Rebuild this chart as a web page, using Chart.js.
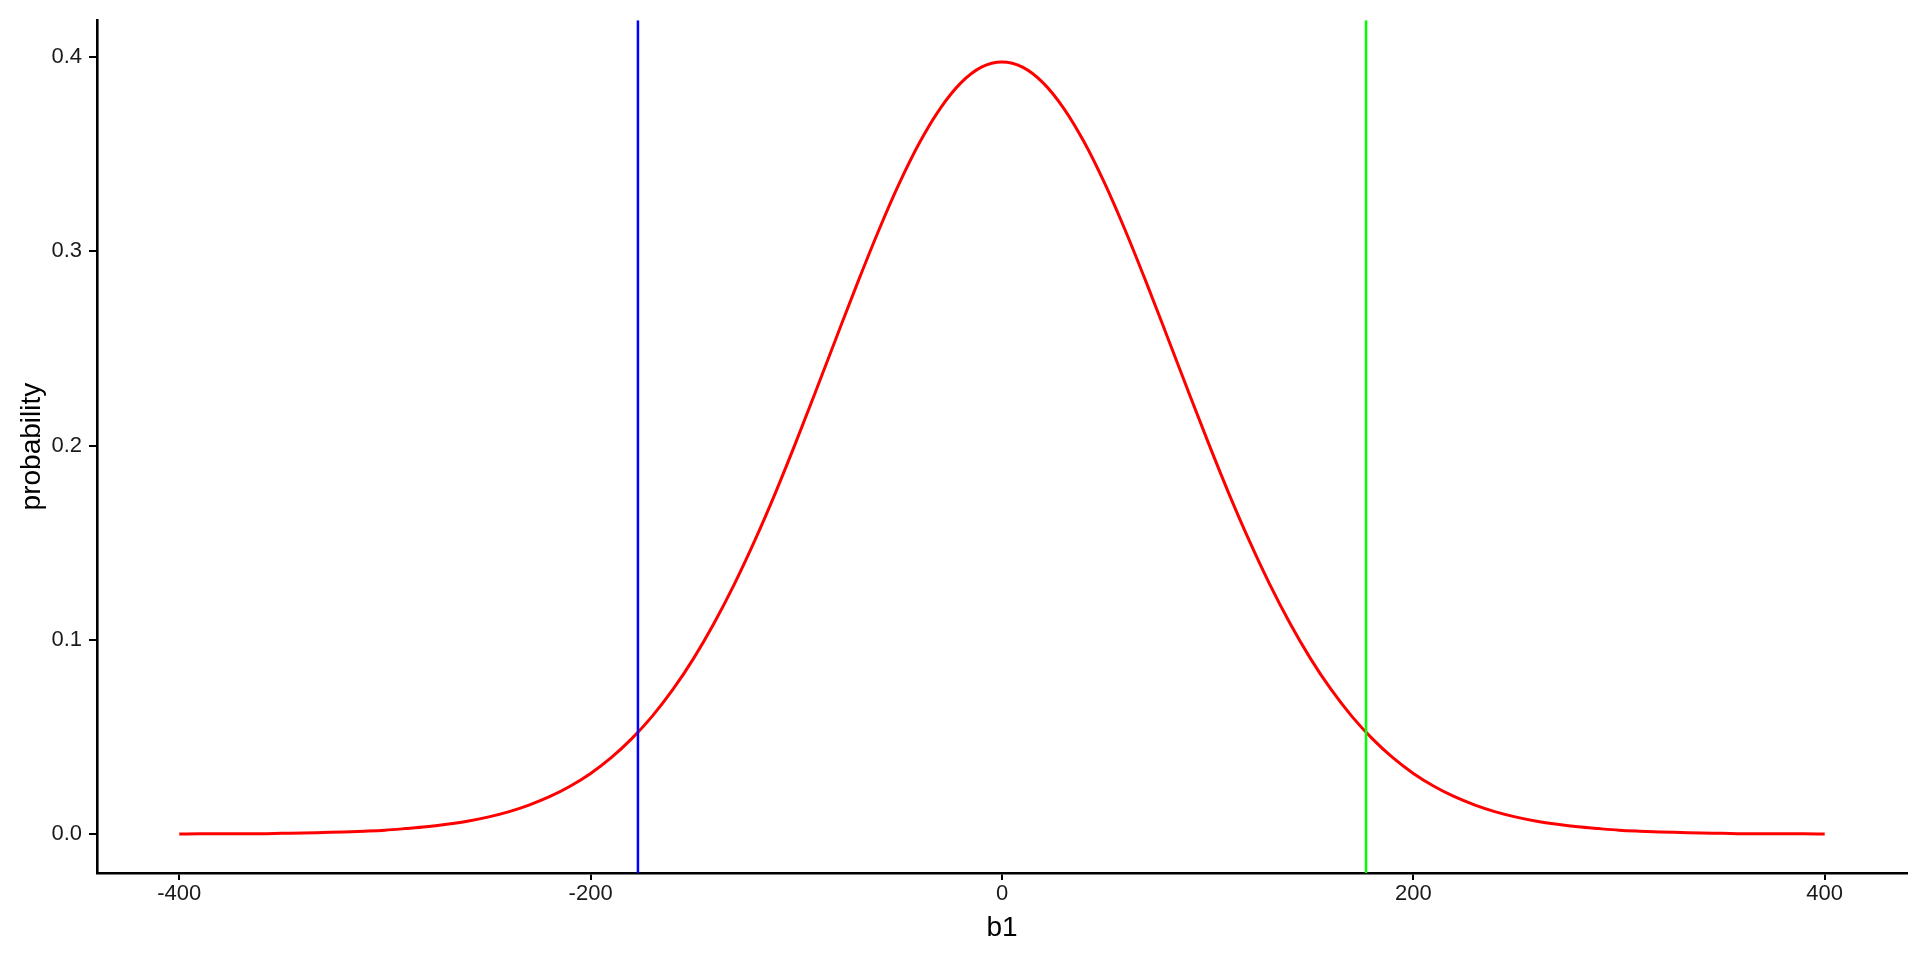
<!DOCTYPE html>
<html>
<head>
<meta charset="utf-8">
<script src="https://cdn.jsdelivr.net/npm/chart.js@4.4.1/dist/chart.umd.min.js"></script>
<style>
  html, body { margin: 0; padding: 0; background: #ffffff; }
  #wrap { width: 1920px; height: 960px; }
</style>
</head>
<body>
<div id="wrap"><canvas id="chart" width="1920" height="960"></canvas></div>
<script>
// curve points
const b1 = [
  -400, -390, -380, -370, -360, -350, -340, -330, -320, -310,
  -300, -290, -280, -270, -260, -250, -240, -230, -220, -210,
  -200, -190, -180, -170, -160, -150, -140, -130, -120, -110,
  -100, -90, -80, -70, -60, -50, -40, -30, -20, -10,
  0,
  10, 20, 30, 40, 50, 60, 70, 80, 90, 100,
  110, 120, 130, 140, 150, 160, 170, 180, 190, 200,
  210, 220, 230, 240, 250, 260, 270, 280, 290, 300,
  310, 320, 330, 340, 350, 360, 370, 380, 390, 400
];
const probability = [
  0.0001, 0.0002, 0.0002, 0.0003, 0.0003, 0.0005, 0.0006, 0.0009, 0.0012, 0.0016,
  0.0021, 0.0029, 0.0038, 0.0051, 0.0067, 0.0088, 0.0115, 0.0150, 0.0193, 0.0247,
  0.0313, 0.0394, 0.0492, 0.0608, 0.0745, 0.0904, 0.1086, 0.1290, 0.1516, 0.1761,
  0.2023, 0.2295, 0.2571, 0.2844, 0.3106, 0.3348, 0.3561, 0.3736, 0.3867, 0.3948,
  0.3975,
  0.3948, 0.3867, 0.3736, 0.3561, 0.3348, 0.3106, 0.2844, 0.2571, 0.2295, 0.2023,
  0.1761, 0.1516, 0.1290, 0.1086, 0.0904, 0.0745, 0.0608, 0.0492, 0.0394, 0.0313,
  0.0247, 0.0193, 0.0150, 0.0115, 0.0088, 0.0067, 0.0051, 0.0038, 0.0029, 0.0021,
  0.0016, 0.0012, 0.0009, 0.0006, 0.0005, 0.0003, 0.0003, 0.0002, 0.0002, 0.0001
];

// vertical reference lines
const lowerLine = -177;
const upperLine = 177;

// tick labels
const xTicks = [-400, -200, 0, 200, 400];
const yTicks = [0.0, 0.1, 0.2, 0.3, 0.4];

// axis limits (ggplot style 5% expansion)
const xMin = -440, xMax = 440;
const yMin = -0.01995, yMax = 0.41895;

const FONT = "'Liberation Sans', Arial, Helvetica, sans-serif";
const TEXT = '#1a1a1a';

const curve = b1.map((x, i) => ({ x: x, y: probability[i] }));

new Chart(document.getElementById('chart').getContext('2d'), {
  type: 'line',
  data: {
    datasets: [
      {
        label: 'lower',
        data: [{ x: lowerLine, y: yMin }, { x: lowerLine, y: yMax }],
        borderColor: '#0000ff',
        borderWidth: 2.5,
        pointRadius: 0,
        order: 0
      },
      {
        label: 'upper',
        data: [{ x: upperLine, y: yMin }, { x: upperLine, y: yMax }],
        borderColor: '#00ff00',
        borderWidth: 2.5,
        pointRadius: 0,
        order: 0
      },
      {
        label: 'density',
        data: curve,
        borderColor: '#ff0000',
        borderWidth: 3,
        pointRadius: 0,
        cubicInterpolationMode: 'monotone',
        order: 1
      }
    ]
  },
  options: {
    responsive: false,
    devicePixelRatio: 1,
    animation: false,
    layout: { padding: { top: 13, right: 13, left: 0, bottom: 0 } },
    plugins: {
      legend: { display: false },
      tooltip: { enabled: false }
    },
    scales: {
      x: {
        type: 'linear',
        min: xMin,
        max: xMax,
        afterBuildTicks: function(scale) {
          scale.ticks = xTicks.map(v => ({ value: v }));
        },
        afterFit: function(scale) { scale.height = 87; },
        grid: {
          display: true,
          drawOnChartArea: false,
          drawTicks: true,
          tickLength: 7,
          color: '#000000',
          lineWidth: 2
        },
        border: { display: true, color: '#000000', width: 2.6 },
        ticks: {
          color: TEXT,
          font: { family: FONT, size: 22 },
          padding: 1,
          maxRotation: 0,
          callback: v => String(v)
        },
        title: {
          display: true,
          text: 'b1',
          color: '#000000',
          font: { family: FONT, size: 28 },
          padding: { top: 0, bottom: 15 }
        }
      },
      y: {
        type: 'linear',
        min: yMin,
        max: yMax,
        afterBuildTicks: function(scale) {
          scale.ticks = yTicks.map(v => ({ value: v }));
        },
        afterFit: function(scale) { scale.width = 97; },
        grid: {
          display: true,
          drawOnChartArea: false,
          drawTicks: true,
          tickLength: 8,
          color: '#000000',
          lineWidth: 2
        },
        border: { display: true, color: '#000000', width: 2.6 },
        ticks: {
          color: TEXT,
          font: { family: FONT, size: 22 },
          padding: 7,
          callback: v => v.toFixed(1)
        },
        title: {
          display: true,
          text: 'probability',
          color: '#000000',
          font: { family: FONT, size: 28 },
          padding: { top: 15, bottom: 0 }
        }
      }
    }
  }
});
</script>
</body>
</html>
